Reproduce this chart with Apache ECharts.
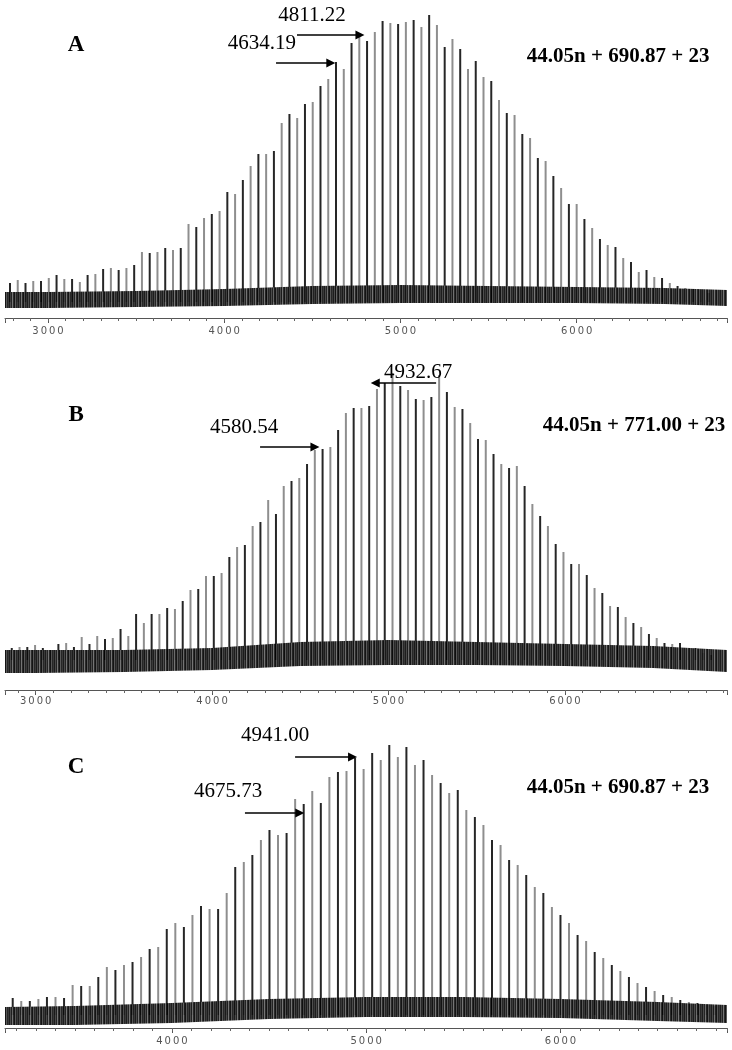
<!DOCTYPE html>
<html><head><meta charset="utf-8">
<script src="https://cdn.jsdelivr.net/npm/echarts@6/dist/echarts.min.js"></script>
<style>html,body{margin:0;padding:0;background:#fff}#c{width:732px;height:1050px}</style>
</head><body><div id="c"></div>
<script>
// ---------------- DATA ----------------
const panelNames = ['A', 'B', 'C'];
const REPEAT = 44.05;          // repeat-unit mass
const NA = 23;                 // sodium adduct
const endGroups = [690.87, 771.00, 690.87];
const nStart = [47, 47, 56];   // first repeat number visible in each spectrum

// peak intensities (arbitrary units), one per repeat n
const heightsA = [19,22,19,21,21,24,27,23,23,20,27,28,33,34,32,34,37,50,49,50,54,52,54,78,75,84,88,91,110,108,122,136,148,148,151,179,188,184,198,200,216,223,240,233,259,269,
  261,270,281,279,278,280,282,275,287,277,255,263,253,233,241,225,221,202,189,187,168,164,144,141,126,114,98,98,83,74,63,57,55,44,40,30,32,25,24,19,16,14,13,12,9];
const heightsB = [12,13,13,15,12,10,16,17,13,23,16,24,21,22,31,24,46,37,46,46,52,51,59,70,71,84,84,87,103,113,115,134,138,160,146,174,179,182,196,210,211,213,230,247,252,252,
  254,271,277,287,274,270,261,260,263,285,268,253,251,237,221,220,206,196,192,194,174,156,144,134,116,108,96,96,85,72,67,54,53,43,37,33,26,22,17,16,17,11,12,7,5];
const heightsC = [17,14,14,16,18,18,17,30,29,29,38,48,45,50,53,58,66,68,86,92,88,100,109,106,106,122,148,153,160,175,185,180,182,216,211,224,212,238,243,244,257,246,
  262,255,270,258,268,250,255,240,232,222,225,205,198,190,175,170,155,150,140,128,122,108,100,92,80,74,63,57,50,44,38,32,28,24,20,18,15,13,12,10,9];

// baseline noise band (m/z, lower and upper level)
const bandMzA = [2756,3000,3500,4000,4500,5000,5500,6000,6500,6853];
const bandLoA = [-6,-6,-5,-4,-2,-1,-1,-1,-2,-4];
const bandHiA = [10,10,11,13,16,17,16,15,14,12];
const bandMzB = [2826,3000,3500,4000,4500,5000,5500,6000,6500,6919];
const bandLoB = [-13,-13,-12,-10,-6,-5,-5,-6,-8,-12];
const bandHiB = [10,10,10,12,18,20,18,16,14,10];
const bandMzC = [3141,3500,4000,4500,5000,5500,6000,6500,6857];
const bandLoC = [-10,-10,-8,-4,-2,-2,-3,-6,-8];
const bandHiC = [8,9,12,16,18,18,16,13,10];

// annotated peak masses
const peakLabelsA = ['4811.22', '4634.19'];
const peakLabelsB = ['4580.54', '4932.67'];
const peakLabelsC = ['4941.00', '4675.73'];

// ---------------- LAYOUT ----------------
const heights = [heightsA, heightsB, heightsC];
const bands = [[bandMzA, bandLoA, bandHiA], [bandMzB, bandLoB, bandHiB], [bandMzC, bandLoC, bandHiC]];
const peakLabels = [peakLabelsA, peakLabelsB, peakLabelsC];
const layout = [
  {top: 2,   height: 316, xMin: 2756, xMax: 6853, yMin: -16, yMax: 300, margin: 8,
   letter: [3159, 257], formula: [6235, 245], texts: [[4498, 287], [4214, 259]], arrows: [[4413, 4770, 267], [4294, 4605, 239]]},
  {top: 360, height: 330, xMin: 2826, xMax: 6919, yMin: -30, yMax: 300, margin: 6,
   letter: [3229, 245], formula: [6392, 234], texts: [[4181, 233], [5168, 288]], arrows: [[4272, 4583, 213], [5270, 4925, 277]]},
  {top: 715, height: 313, xMin: 3141, xMax: 6857, yMin: -13, yMax: 300, margin: 8,
   letter: [3507, 248], formula: [6296, 227], texts: [[4531, 280], [4289, 224]], arrows: [[4634, 4930, 258], [4376, 4658, 202]]}
];

// noise texture
const pc = document.createElement('canvas');
pc.width = 9; pc.height = 40;
const pctx = pc.getContext('2d');
['#0a0a0a','#3c3c3c','#111','#6a6a6a','#1a1a1a','#000','#4a4a4a','#151515','#2a2a2a'].forEach((c, i) => {
  pctx.fillStyle = c; pctx.fillRect(i, 0, 1, 40);
});
const noisePattern = {image: pc, repeat: 'repeat'};

const grid = [], xAxis = [], yAxis = [], series = [];
layout.forEach((L, i) => {
  grid.push({left: 5, right: 5, top: L.top, height: L.height, containLabel: false});
  xAxis.push({
    type: 'value', gridIndex: i, position: 'bottom', min: L.xMin, max: L.xMax,
    minInterval: 1000, maxInterval: 1000, splitNumber: 4,
    axisLine: {show: true, onZero: false, lineStyle: {color: '#555', width: 1}},
    axisTick: {show: true, length: 5, lineStyle: {color: '#555'}},
    splitLine: {show: false},
    axisLabel: {margin: L.margin, fontSize: 10, color: '#555', fontFamily: 'DejaVu Sans',
      formatter: v => (Math.abs(v % 1000) < 1e-6 ? String(v).split('').join('\u2009') : '')}
  });
  xAxis.push({
    type: 'value', gridIndex: i, position: 'bottom', min: L.xMin, max: L.xMax,
    minInterval: 100, maxInterval: 100, splitNumber: 40,
    axisLine: {show: false, onZero: false},
    axisTick: {show: true, length: 3, lineStyle: {color: '#666'}},
    splitLine: {show: false}, axisLabel: {show: false}
  });
  yAxis.push({type: 'value', gridIndex: i, min: L.yMin, max: L.yMax, show: false});

  const end = endGroups[i];
  const formula = REPEAT.toFixed(2) + 'n + ' + end.toFixed(2) + ' + ' + NA;
  const serif = 'Liberation Serif, Times New Roman, serif';
  const mkText = (coord, text, size, bold) => ({
    coord: coord, value: 0,
    label: {show: true, position: 'inside', formatter: text, fontFamily: serif,
      fontSize: size, fontWeight: bold ? 'bold' : 'normal', color: '#000'}
  });
  const texts = [mkText(L.letter, panelNames[i], 23, true), mkText(L.formula, formula, 21, true)];
  peakLabels[i].forEach((t, k) => texts.push(mkText(L.texts[k], t, 21, false)));

  series.push({
    type: 'bar', xAxisIndex: 2 * i, yAxisIndex: i, barWidth: 2, silent: true, animation: false,
    data: heights[i].map((h, k) => [REPEAT * (nStart[i] + k) + end + NA, h]),
    itemStyle: {color: p => (p.dataIndex % 2 ? '#8e8e8e' : '#262626')},
    z: 2,
    markLine: {
      silent: true, animation: false, symbol: ['none', 'triangle'], symbolSize: 9,
      itemStyle: {color: '#000'},
      lineStyle: {color: '#000', width: 1.5, type: 'solid'}, label: {show: false},
      data: L.arrows.map(a => [{coord: [a[0], a[2]]}, {coord: [a[1], a[2]]}])
    },
    markPoint: {
      silent: true, animation: false, symbol: 'circle', symbolSize: 1,
      itemStyle: {color: 'rgba(0,0,0,0)'}, data: texts
    }
  });
  const [bm, blo, bhi] = bands[i];
  series.push({
    type: 'custom', xAxisIndex: 2 * i, yAxisIndex: i, silent: true, animation: false, z: 3,
    data: [[bm[0], 0]],
    renderItem: (params, api) => {
      const pts = [];
      bm.forEach((m, k) => pts.push(api.coord([m, bhi[k]])));
      for (let k = bm.length - 1; k >= 0; k--) pts.push(api.coord([bm[k], blo[k]]));
      return {type: 'polygon', shape: {points: pts}, style: {fill: noisePattern, opacity: 0.92}};
    }
  });
});

const chart = echarts.init(document.getElementById('c'), null, {renderer: 'canvas'});
chart.setOption({animation: false, backgroundColor: '#fff', grid, xAxis, yAxis, series});
</script></body></html>
